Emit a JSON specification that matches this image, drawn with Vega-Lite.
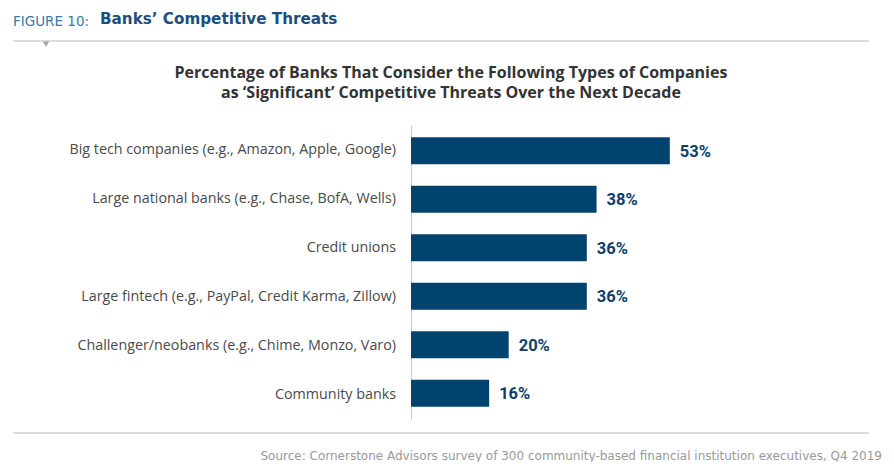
{
  "$schema": "https://vega.github.io/schema/vega-lite/v6.json",
  "padding": {"left": 12, "top": 11, "right": 0, "bottom": 0},
  "background": "white",
  "config": {"view": {"stroke": null}},
  "spacing": 0,
  "vconcat": [
    {
      "hconcat": [
        {
          "data": {"values": []},
          "mark": {"type": "point", "opacity": 0},
          "width": 1,
          "height": 1,
          "title": {"text": "FIGURE 10:", "anchor": "start", "font": "DejaVu Sans", "fontSize": 13.5, "fontWeight": "normal", "color": "#3b78a7", "baseline": "alphabetic", "offset": 0}
        },
        {
          "data": {"values": []},
          "mark": {"type": "point", "opacity": 0},
          "width": 1,
          "height": 1,
          "title": {"text": "Banks’ Competitive Threats", "anchor": "start", "font": "DejaVu Sans", "fontSize": 15.2, "fontWeight": "bold", "color": "#1c4e80", "baseline": "alphabetic", "offset": 0}
        }
      ],
      "spacing": 10
    },
    {
      "data": {"values": [{}]},
      "width": 856,
      "height": 24,
      "layer": [
        {
          "mark": {"type": "rule", "color": "#dcdcdc", "strokeWidth": 2},
          "encoding": {
            "x": {"datum": 0, "type": "quantitative", "scale": {"domain": [0, 1], "nice": false, "zero": false}, "axis": null},
            "x2": {"datum": 1},
            "y": {"datum": 1, "type": "quantitative", "scale": {"domain": [0, 1], "nice": false}, "axis": null}
          }
        },
        {
          "mark": {"type": "point", "shape": "triangle-down", "filled": true, "color": "#a8a8a8", "opacity": 1, "size": 40},
          "encoding": {
            "x": {"datum": 0.0385, "type": "quantitative"},
            "y": {"datum": 0.86, "type": "quantitative"}
          }
        }
      ]
    },
    {
      "data": {
        "values": [
          {"company": "Big tech companies (e.g., Amazon, Apple, Google)", "share": 0.53},
          {"company": "Large national banks (e.g., Chase, BofA, Wells)", "share": 0.38},
          {"company": "Credit unions", "share": 0.36},
          {"company": "Large fintech (e.g., PayPal, Credit Karma, Zillow)", "share": 0.36},
          {"company": "Challenger/neobanks (e.g., Chime, Monzo, Varo)", "share": 0.20},
          {"company": "Community banks", "share": 0.16}
        ]
      },
      "title": {
        "text": ["Percentage of Banks That Consider the Following Types of Companies", "as ‘Significant’ Competitive Threats Over the Next Decade"],
        "anchor": "middle",
        "dx": 89,
        "font": "Open Sans",
        "fontSize": 16,
        "fontWeight": "bold",
        "color": "#333333",
        "lineHeight": 20,
        "offset": 24
      },
      "spacing": 15,
      "hconcat": [
        {
          "width": 383,
          "height": 294,
          "mark": {"type": "text", "align": "right", "baseline": "middle", "font": "Open Sans", "fontSize": 14.3, "color": "#4a4a4a"},
          "encoding": {
            "y": {"field": "company", "type": "nominal", "sort": null, "scale": {"paddingInner": 0.44, "paddingOuter": 0.25}, "axis": null},
            "x": {"datum": 1, "type": "quantitative", "scale": {"domain": [0, 1], "nice": false, "zero": false}, "axis": null},
            "text": {"field": "company", "type": "nominal"}
          }
        },
        {
          "width": 293,
          "height": 294,
          "encoding": {
            "y": {
              "field": "company",
              "type": "nominal",
              "sort": null,
              "scale": {"paddingInner": 0.44, "paddingOuter": 0.25},
              "axis": {"title": null, "ticks": false, "labels": false, "domainColor": "#cccccc", "domainWidth": 1, "grid": false}
            },
            "x": {
              "field": "share",
              "type": "quantitative",
              "scale": {"domain": [0, 0.6], "nice": false},
              "axis": null
            }
          },
          "layer": [
            {"mark": {"type": "bar", "color": "#00436f"}},
            {
              "mark": {"type": "text", "align": "left", "baseline": "middle", "dx": 10, "dy": 1, "font": "Roboto", "fontWeight": "bold", "fontSize": 16.5, "color": "#0e3f6c"},
              "encoding": {"text": {"field": "share", "type": "quantitative", "format": ".0%"}}
            }
          ]
        }
      ]
    },
    {
      "data": {"values": [{}]},
      "width": 856,
      "height": 28,
      "title": {"text": "Source: Cornerstone Advisors survey of 300 community-based financial institution executives, Q4 2019", "orient": "bottom", "anchor": "end", "dx": 12, "font": "DejaVu Sans", "fontSize": 12, "fontWeight": "normal", "color": "#9a9a9a", "offset": 4},
      "mark": {"type": "rule", "color": "#dcdcdc", "strokeWidth": 2},
      "encoding": {
        "x": {"datum": 0, "type": "quantitative", "scale": {"domain": [0, 1], "nice": false, "zero": false}, "axis": null},
        "x2": {"datum": 1},
        "y": {"datum": 0.5, "type": "quantitative", "scale": {"domain": [0, 1], "nice": false}, "axis": null}
      }
    }
  ]
}
